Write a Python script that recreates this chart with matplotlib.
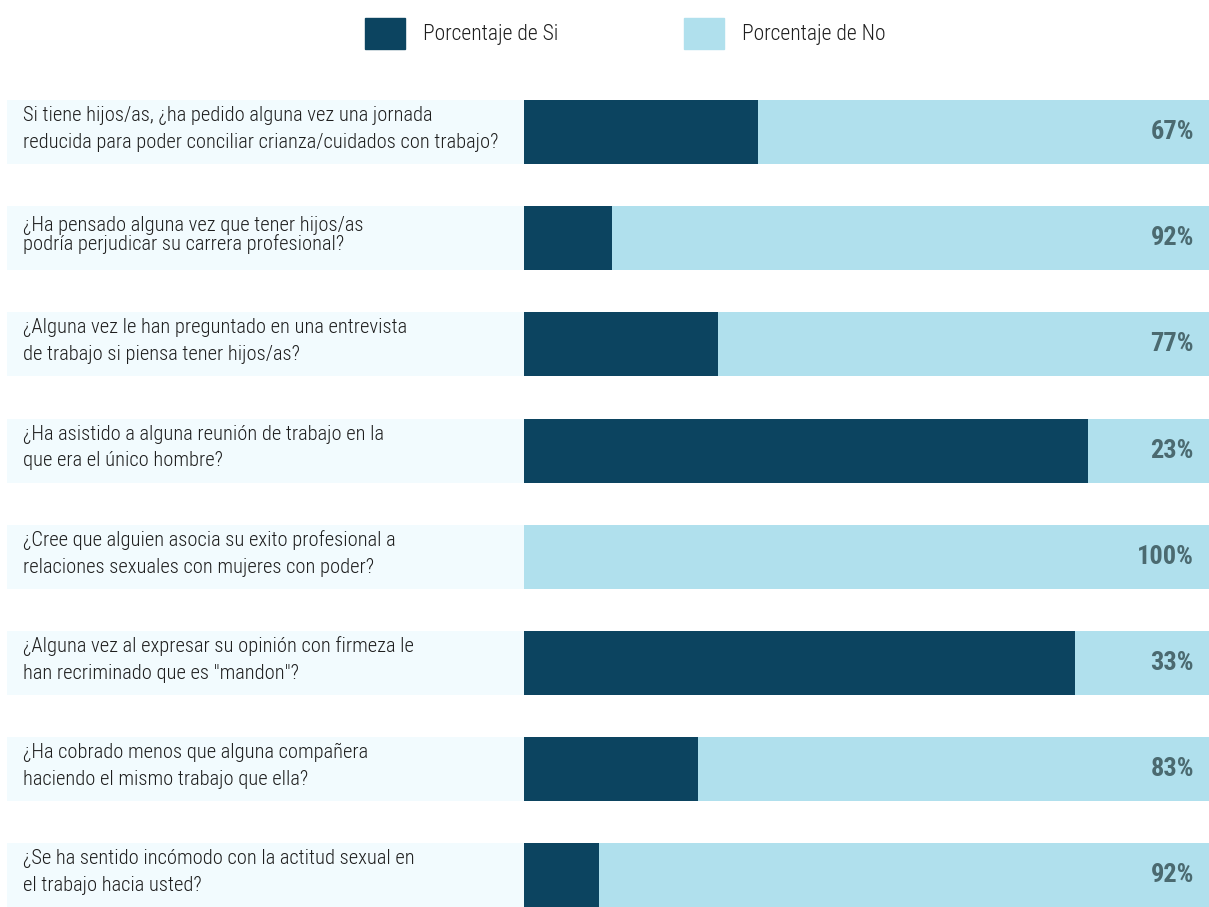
import matplotlib
matplotlib.use("Agg")
import matplotlib.pyplot as plt
from matplotlib.patches import Patch

plt.rcParams['font.family'] = ['Roboto Condensed', 'DejaVu Sans']
plt.rcParams['font.stretch'] = 'condensed'

preguntas = [
    "Si tiene hijos/as, ¿ha pedido alguna vez una jornada\nreducida para poder conciliar crianza/cuidados con trabajo?",
    "¿Ha pensado alguna vez que tener hijos/as\npodría perjudicar su carrera profesional?",
    "¿Alguna vez le han preguntado en una entrevista\nde trabajo si piensa tener hijos/as?",
    "¿Ha asistido a alguna reunión de trabajo en la\nque era el único hombre?",
    "¿Cree que alguien asocia su exito profesional a\nrelaciones sexuales con mujeres con poder?",
    "¿Alguna vez al expresar su opinión con firmeza le\nhan recriminado que es \"mandon\"?",
    "¿Ha cobrado menos que alguna compañera\nhaciendo el mismo trabajo que ella?",
    "¿Se ha sentido incómodo con la actitud sexual en\nel trabajo hacia usted?",
]
# longitud de la barra oscura (% del ancho)
si = [34.2, 12.9, 28.4, 82.3, 0.0, 80.5, 25.5, 11.0]
no = [100 - v for v in si]
etiquetas_no = ["67%", "92%", "77%", "23%", "100%", "33%", "83%", "92%"]

c_si = '#0c4460'
c_no = '#b0e0ed'
c_panel = '#f2fbfe'
c_pct = '#4b6a70'

fig = plt.figure(figsize=(12.09, 9.07), dpi=100)
ax = fig.add_axes([0, 0, 1, 1])

y = list(range(len(preguntas)))
ax.barh(y, [75.3] * len(y), left=-75.3, height=0.603, color=c_panel)
ax.barh(y, si, height=0.603, color=c_si, label='Porcentaje de Si')
ax.barh(y, no, left=si, height=0.603, color=c_no, label='Porcentaje de No')

for i, txt in enumerate(preguntas):
    ax.text(-73.05, i - 0.03, txt, ha='left', va='center', fontsize=14.8,
            fontweight='light', color='#1e1e1e',
            linespacing=0.89 if i == 1 else 1.51)
    ax.text(97.8, i, etiquetas_no[i], ha='right', va='center', fontsize=19,
            fontweight='bold', color=c_pct)

ax.set_xlim(-76.37, 100)
ax.set_ylim(7.298, -1.243)
ax.axis('off')

handles = [Patch(color=c_si), Patch(color=c_no)]
leg = ax.legend(handles, ['Porcentaje de Si', 'Porcentaje de No'], loc='upper center',
                bbox_to_anchor=(0.517, 0.992), ncol=2, frameon=False, fontsize=15.5,
                handlelength=1.86, handleheight=1.81, handletextpad=0.84,
                columnspacing=5.84, borderpad=0, labelcolor='#1e1e1e')
for t in leg.get_texts():
    t.set_fontweight('light')

fig.savefig('out.png', dpi=100)
